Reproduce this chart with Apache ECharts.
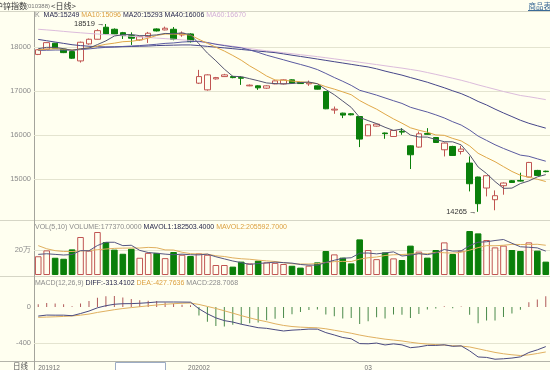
<!DOCTYPE html>
<html>
<head>
<meta charset="utf-8">
<title>沪锌指数 日线</title>
<script src="https://cdn.jsdelivr.net/npm/echarts@6.0.0/dist/echarts.min.js"></script>
<style>
  html, body { margin: 0; padding: 0; background: #fffff0; }
  #main { width: 550px; height: 370px; }
</style>
</head>
<body>
<div id="main"></div>
<script>
// 交易日
var dates = [
  '2019-12-27', '2019-12-30', '2019-12-31',
  '2020-01-02', '2020-01-03', '2020-01-06', '2020-01-07', '2020-01-08', '2020-01-09', '2020-01-10',
  '2020-01-13', '2020-01-14', '2020-01-15', '2020-01-16', '2020-01-17', '2020-01-20', '2020-01-21',
  '2020-01-22', '2020-01-23',
  '2020-02-03', '2020-02-04', '2020-02-05', '2020-02-06', '2020-02-07', '2020-02-10', '2020-02-11',
  '2020-02-12', '2020-02-13', '2020-02-14', '2020-02-17', '2020-02-18', '2020-02-19', '2020-02-20',
  '2020-02-21', '2020-02-24', '2020-02-25', '2020-02-26', '2020-02-27', '2020-02-28',
  '2020-03-02', '2020-03-03', '2020-03-04', '2020-03-05', '2020-03-06', '2020-03-09', '2020-03-10',
  '2020-03-11', '2020-03-12', '2020-03-13', '2020-03-16', '2020-03-17', '2020-03-18', '2020-03-19',
  '2020-03-20', '2020-03-23', '2020-03-24', '2020-03-25', '2020-03-26', '2020-03-27', '2020-03-30',
  '2020-03-31'
];

// K线: 开 收 低 高
var opens = [17830,17948,18084,17948,17894,17683,18068,18174,18446,18400,
  18323,18256,18158,18233,18407,18385,18400,18271,18294,17179,
  17027,17276,17328,17328,17310,17118,17118,17066,17163,17163,
  17254,17192,17163,17118,16989,16570,16500,16485,16423,15987,
  16206,16050,15971,16090,15760,15731,16040,15948,15670,15745,
  15632,15369,15053,14804,14539,14856,14969,14975,15053,15202,15185];
var closes = [17935,18097,17970,17871,17744,18106,18174,18369,18294,18294,
  18256,18197,18233,18310,18362,18423,18174,18310,18120,17328,
  17367,17305,17367,17305,17290,17134,17073,17118,17231,17254,
  17180,17170,17185,17043,16598,16590,16455,16462,15912,16236,
  16251,16035,16107,16070,15557,16032,16020,15835,15822,15541,
  15686,14901,14449,15082,14630,14917,14930,14960,15383,15089,15175];
var lows = [17815,17940,17960,17860,17730,17645,18050,18170,18280,18290,
  18180,18045,18140,18090,18350,18375,18150,18230,18100,17160,
  17010,17260,17320,17290,17140,17110,17027,17050,17155,17150,
  17170,17160,17118,17035,16590,16485,16387,16450,15731,15980,
  16195,15919,15960,16010,15234,15720,16010,15825,15519,15530,
  15565,14727,14265,14614,14300,14652,14920,14950,15045,15080,15160];
var highs = [17950,18105,18090,17960,17900,18120,18190,18400,18519,18420,
  18340,18330,18250,18340,18420,18460,18450,18350,18310,17480,
  17380,17320,17390,17345,17340,17150,17130,17130,17240,17265,
  17265,17200,17238,17125,17000,16650,16510,16500,16430,16250,
  16265,16060,16120,16160,15770,16084,16160,15960,15835,15760,
  15760,15519,15060,15090,14750,14930,14985,15150,15395,15215,15195];

// 均线
var ma5 = [17960,17990,17990,17960,17923,17958,17973,18053,18137,18247,
  18277,18282,18255,18258,18272,18305,18300,18316,18278,18071,
  17860,17686,17497,17334,17327,17280,17234,17184,17169,17162,
  17171,17191,17204,17166,17035,16917,16774,16630,16403,16331,
  16263,16179,16108,16140,16004,15960,15957,15903,15853,15850,
  15781,15557,15280,15132,14950,14796,14802,14904,14964,15056,15107];
var ma10 = [17930,17950,17960,17950,17930,17950,17980,18020,18060,18085,
  18118,18128,18154,18198,18260,18291,18291,18285,18268,18171,
  18082,17993,17907,17806,17699,17570,17460,17341,17252,17244,
  17226,17212,17194,17168,17099,17044,16982,16917,16785,16683,
  16590,16477,16369,16272,16168,16112,16068,16006,15997,15927,
  15871,15757,15591,15493,15400,15288,15179,15092,15048,15003,14951];
var ma20 = [17920,17925,17930,17930,17925,17940,17955,17975,17990,18000,
  18010,18020,18030,18045,18060,18080,18090,18110,18120,18128,
  18100,18060,18030,18002,17979,17931,17876,17813,17760,17708,
  17654,17603,17550,17487,17399,17307,17221,17129,17018,16964,
  16908,16844,16781,16720,16633,16578,16525,16461,16391,16305,
  16230,16117,15980,15882,15784,15700,15624,15549,15522,15465,15411];
var ma40 = [18170,18140,18110,18080,18050,18030,18015,18005,18000,18000,
  18005,18010,18015,18020,18030,18035,18040,18045,18045,18030,
  18012,17995,17978,17960,17942,17925,17905,17888,17870,17842,
  17812,17784,17755,17725,17695,17665,17635,17605,17575,17546,
  17504,17452,17406,17361,17306,17254,17200,17137,17075,17006,
  16942,16860,16765,16685,16591,16504,16422,16339,16270,16214,16160];
var ma60 = [18400,18385,18370,18352,18335,18320,18305,18292,18280,18268,
  18255,18240,18228,18215,18200,18188,18175,18160,18145,18118,
  18092,18066,18040,18014,17988,17962,17936,17912,17890,17868,
  17846,17824,17802,17780,17755,17730,17705,17680,17652,17626,
  17600,17573,17546,17520,17490,17460,17420,17378,17335,17290,
  17245,17195,17140,17090,17040,16990,16945,16900,16872,16840,16806];

// 成交量
var volumes = [150000,197000,138000,130000,205000,304000,195000,344000,264000,203000,
  170000,210000,138000,177000,177000,135000,184000,162000,152000,173000,
  162000,80000,80000,67000,107000,93000,115000,101000,97000,88000,
  74000,59000,75000,101000,192000,165000,139000,93000,285000,200000,
  127000,181000,133000,120000,235000,187000,139000,200000,261000,168000,
  195000,352000,333000,280000,221000,235000,200000,192000,261000,195000,107000];
var mavol1 = [165000,170000,165000,160000,164000,195000,194000,236000,262000,262000,
  235000,238000,197000,180000,174000,167000,162000,167000,162000,161000,
  167000,146000,129000,112000,99000,85000,92000,97000,103000,99000,
  95000,84000,79000,79000,100000,118000,134000,138000,175000,176000,
  169000,177000,185000,152000,159000,171000,163000,176000,204000,191000,
  193000,235000,262000,266000,276000,284000,254000,226000,222000,217000,191000];
var mavol2 = [235000,210000,195000,188000,188000,192000,196000,202000,208000,213000,
  215000,216000,216000,221000,218000,201000,200000,182000,171000,168000,
  167000,154000,148000,137000,130000,126000,119000,113000,108000,99000,
  90000,88000,88000,91000,100000,107000,109000,108000,127000,138000,
  144000,156000,162000,164000,168000,170000,170000,181000,178000,175000,
  182000,199000,219000,235000,234000,238000,245000,244000,244000,246000,238000];

// MACD(12,26,9)
var diff = [-100,-89,-90,-90,-96,-72,-45,-9,14,30,
  36,37,41,47,55,55,55,54,53,-20,
  -75,-120,-150,-166,-190,-209,-228,-235,-250,-264,
  -255,-250,-243,-244,-282,-308,-336,-350,-403,-405,
  -397,-418,-406,-417,-448,-439,-423,-423,-416,-433,
  -428,-483,-550,-555,-575,-570,-562,-549,-501,-472,-436];
var dea = [-114,-111,-108,-104,-99,-90,-78,-60,-45,-30,
  -17,-7,3,13,22,30,36,41,44,28,
  6,-16,-42,-68,-95,-120,-143,-162,-185,-203,
  -215,-222,-226,-229,-240,-256,-272,-289,-309,-326,
  -340,-354,-364,-374,-388,-400,-408,-414,-420,-426,
  -430,-440,-460,-480,-500,-515,-526,-534,-527,-512,-495];
var macd = [29,44,37,29,7,37,66,103,118,120,
  105,88,75,68,66,50,37,25,18,-95,
  -162,-208,-215,-196,-190,-178,-170,-145,-130,-121,
  -80,-55,-33,-29,-84,-103,-128,-121,-187,-157,
  -114,-128,-84,-86,-121,-77,-29,-18,8,-14,
  5,-85,-180,-150,-150,-110,-72,-30,52,81,118];

// 日期刻度
var dateTickIdx = [0, 19, 39];
var dateTickText = ['201912', '202002', '03'];

var bg = '#fffff0';
var upColor = '#c05552';
var downColor = '#0a7f0a';
var gridLine = '#e4e4d0';
var none = 'rgba(0,0,0,0)';
var font = 'Liberation Sans';
var cjk = 'Noto Sans CJK SC';

var kData = [];
var volData = [];
var macdData = [];
for (var i = 0; i < dates.length; i++) {
  kData.push([opens[i], closes[i], lows[i], highs[i]]);
  var up = closes[i] >= opens[i];
  volData.push({
    value: volumes[i],
    itemStyle: up ? { color: bg, borderColor: upColor, borderWidth: 1 }
                  : { color: downColor, borderColor: downColor, borderWidth: 1 }
  });
  macdData.push({
    value: macd[i],
    itemStyle: { color: macd[i] >= 0 ? '#b05a5a' : '#4a8a4a' }
  });
}

function lineSeries(name, data, color, xi) {
  return {
    name: name, type: 'line', data: data,
    xAxisIndex: xi, yAxisIndex: xi,
    symbol: 'none', smooth: false,
    lineStyle: { color: color, width: 1 },
    silent: true
  };
}

function label(x, y, text, size, color, family, align) {
  return {
    type: 'text', x: x, y: y,
    style: {
      text: text, fontSize: size, fill: color, fontFamily: family,
      align: align || 'left', verticalAlign: 'middle'
    }
  };
}

var chart = echarts.init(document.getElementById('main'), null, { renderer: 'canvas' });

var option = {
  backgroundColor: bg,
  animation: false,
  textStyle: { fontFamily: font },
  grid: [
    { left: 34, right: 0, top: 11.6, height: 211.9, outerBoundsMode: 'none' },
    { left: 34, right: 0, top: 225, height: 50, outerBoundsMode: 'none' },
    { left: 34, right: 0, top: 277, height: 84.5, outerBoundsMode: 'none' }
  ],
  xAxis: [
    { type: 'category', gridIndex: 0, data: dates, boundaryGap: true, show: false },
    { type: 'category', gridIndex: 1, data: dates, boundaryGap: true, show: false },
    {
      type: 'category', gridIndex: 2, data: dates, boundaryGap: true,
      axisLine: { show: false }, axisTick: { show: false },
      axisLabel: {
        show: true, fontSize: 6.5, color: '#707070', margin: 3,
        alignMinLabel: 'left',
        interval: function (idx) { return dateTickIdx.indexOf(idx) >= 0; },
        formatter: function (v, idx) {
          var k = dateTickIdx.indexOf(idx);
          return k >= 0 ? dateTickText[k] : '';
        }
      }
    }
  ],
  yAxis: [
    {
      type: 'value', gridIndex: 0, min: 14000, max: 18800, interval: 1000,
      axisLine: { show: false }, axisTick: { show: false },
      axisLabel: {
        fontSize: 7.5, color: '#8c8c8c', margin: 3,
        formatter: function (v) { return (v >= 15000 && v <= 18000) ? String(v) : ''; }
      },
      splitLine: { show: true, lineStyle: { color: [none, gridLine, gridLine, gridLine, gridLine, none], width: 1 } }
    },
    {
      type: 'value', gridIndex: 1, min: 0, max: 400000, interval: 200000,
      axisLine: { show: false }, axisTick: { show: false },
      axisLabel: {
        fontSize: 7.5, color: '#8c8c8c', margin: 3,
        formatter: function (v) { return v === 200000 ? '20万' : ''; }
      },
      splitLine: { show: true, lineStyle: { color: [none, gridLine, none], width: 1 } }
    },
    {
      type: 'value', gridIndex: 2, min: -600, max: 330, interval: 200,
      axisLine: { show: false }, axisTick: { show: false },
      axisLabel: {
        fontSize: 7.5, color: '#8c8c8c', margin: 3,
        formatter: function (v) { return (v === 0 || v === -400) ? String(v) : ''; }
      },
      splitLine: { show: true, lineStyle: { color: [none, gridLine, none, none, none, none], width: 1 } }
    }
  ],
  series: [
    {
      name: 'K', type: 'candlestick', data: kData,
      xAxisIndex: 0, yAxisIndex: 0, barWidth: 6,
      itemStyle: {
        color: bg, color0: downColor,
        borderColor: upColor, borderColor0: downColor, borderWidth: 1
      },
      markPoint: {
        symbol: 'circle', symbolSize: 1,
        itemStyle: { color: none },
        label: {
          show: true, position: 'left', distance: 1,
          fontSize: 7.5, color: '#333', fontFamily: font,
          formatter: function (p) { return p.value + ' \u2192'; }
        },
        data: [
          { coord: [8, highs[8]], value: highs[8] },
          { coord: [52, lows[52]], value: lows[52] }
        ]
      }
    },
    lineSeries('MA60', ma60, '#dcbcdc', 0),
    lineSeries('MA40', ma40, '#46468a', 0),
    lineSeries('MA20', ma20, '#5a5aa0', 0),
    lineSeries('MA10', ma10, '#e0a848', 0),
    lineSeries('MA5', ma5, '#555570', 0),
    {
      name: 'VOL', type: 'bar', data: volData,
      xAxisIndex: 1, yAxisIndex: 1, barWidth: '78%'
    },
    lineSeries('MAVOL2', mavol2, '#e0b060', 1),
    lineSeries('MAVOL1', mavol1, '#555580', 1),
    {
      name: 'MACD', type: 'bar', data: macdData,
      xAxisIndex: 2, yAxisIndex: 2, barWidth: 1
    },
    lineSeries('DEA', dea, '#e0b060', 2),
    lineSeries('DIFF', diff, '#4a4a80', 2)
  ],
  graphic: [
    { type: 'line', shape: { x1: 0, y1: 11.5, x2: 550, y2: 11.5 }, style: { stroke: '#d6d6c6', lineWidth: 1 } },
    { type: 'line', shape: { x1: 0, y1: 220.5, x2: 550, y2: 220.5 }, style: { stroke: '#d6d6c6', lineWidth: 1 } },
    { type: 'line', shape: { x1: 0, y1: 276.5, x2: 550, y2: 276.5 }, style: { stroke: '#d6d6c6', lineWidth: 1 } },
    { type: 'line', shape: { x1: 0, y1: 361.5, x2: 550, y2: 361.5 }, style: { stroke: '#b4b4aa', lineWidth: 1 } },
    { type: 'line', shape: { x1: 34.5, y1: 11.5, x2: 34.5, y2: 370 }, style: { stroke: '#a4a49c', lineWidth: 1 } },
    { type: 'rect', shape: { x: 115.5, y: 362.5, width: 50, height: 10 }, style: { fill: '#ffffff', stroke: '#9cacc4', lineWidth: 1 } },
    label(-5, 6, '沪锌指数', 8, '#333333', cjk),
    label(26, 6, '(010388)', 6, '#777777', font),
    label(51, 6, '<日线>', 8, '#333333', cjk),
    label(551, 6, '商品表', 7.5, '#3a6a96', cjk, 'right'),
    { type: 'line', shape: { x1: 528, y1: 10.5, x2: 550, y2: 10.5 }, style: { stroke: '#3a6a96', lineWidth: 1 } },
    label(28, 366, '日线', 7.5, '#555555', cjk, 'right'),
    {
      type: 'text', x: 35, y: 15.5,
      style: {
        text: '{g|K}  {n|MA5:15249} {o|MA10:15096} {n|MA20:15293} {n|MA40:16006} {p|MA60:16670}',
        verticalAlign: 'middle', fontSize: 7, fontFamily: font,
        rich: {
          g: { fill: '#8c8c8c', fontSize: 7, fontFamily: font },
          n: { fill: '#26264a', fontSize: 7, fontFamily: font },
          o: { fill: '#dca040', fontSize: 7, fontFamily: font },
          p: { fill: '#d4b0d8', fontSize: 7, fontFamily: font }
        }
      }
    },
    {
      type: 'text', x: 35, y: 227.5,
      style: {
        text: '{g|VOL(5,10) VOLUME:177370.0000} {n|MAVOL1:182503.4000} {o|MAVOL2:205592.7000}',
        verticalAlign: 'middle', fontSize: 7, fontFamily: font,
        rich: {
          g: { fill: '#8c8c8c', fontSize: 7, fontFamily: font },
          n: { fill: '#26264a', fontSize: 7, fontFamily: font },
          o: { fill: '#dca040', fontSize: 7, fontFamily: font }
        }
      }
    },
    {
      type: 'text', x: 35, y: 283,
      style: {
        text: '{g|MACD(12,26,9)} {n|DIFF:-313.4102} {o|DEA:-427.7636} {g|MACD:228.7068}',
        verticalAlign: 'middle', fontSize: 7, fontFamily: font,
        rich: {
          g: { fill: '#8c8c8c', fontSize: 7, fontFamily: font },
          n: { fill: '#26264a', fontSize: 7, fontFamily: font },
          o: { fill: '#dca040', fontSize: 7, fontFamily: font }
        }
      }
    }
  ]
};

chart.setOption(option);
</script>
</body>
</html>
